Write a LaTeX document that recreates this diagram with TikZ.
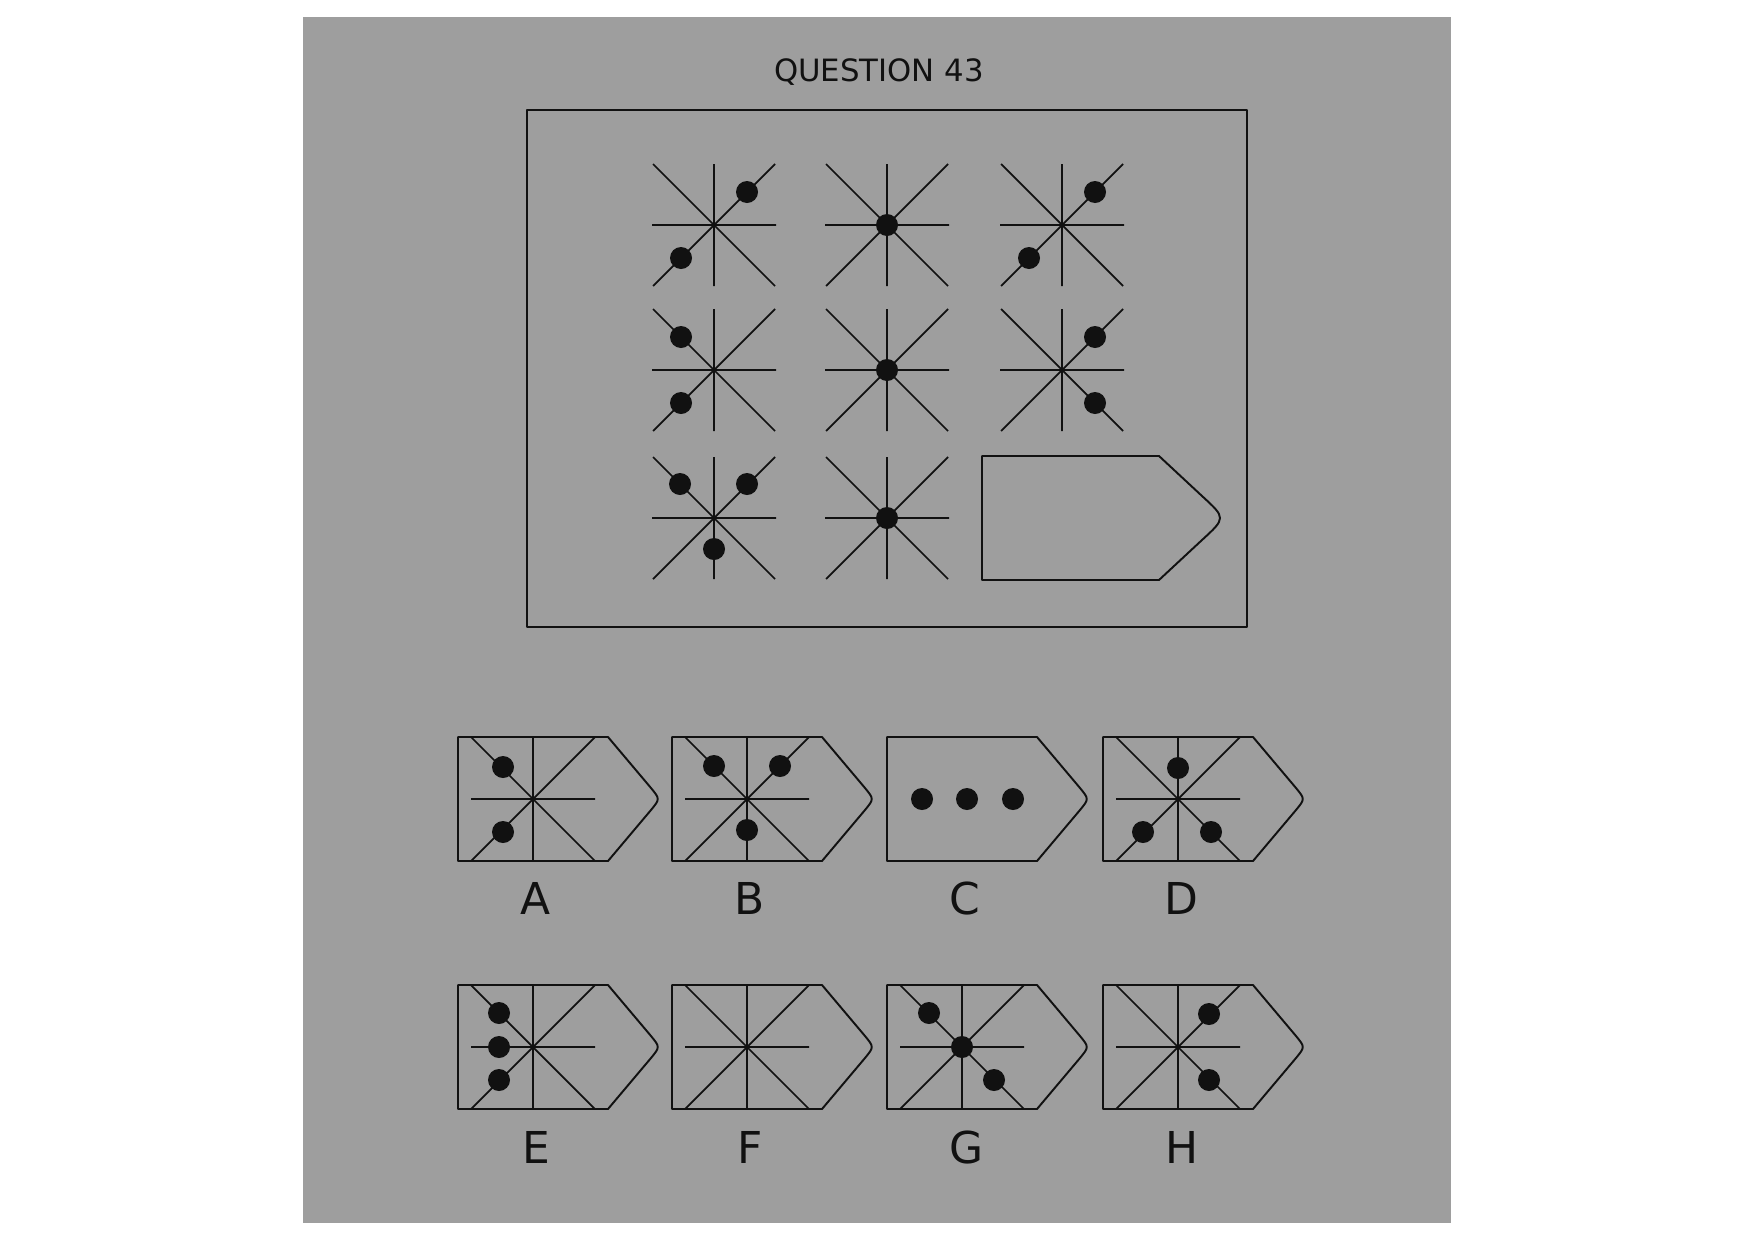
\documentclass[tikz,border=0pt]{standalone}
\usepackage{fontspec}
\setmainfont{DejaVu Sans}
\usepackage{tikz}

\definecolor{panel}{RGB}{158,158,158}
\definecolor{ink}{RGB}{17,17,17}

\tikzset{
  puzzle line/.style={draw=ink, line width=1pt},
  frame line/.style={draw=ink, line width=1.1pt, line join=round},
  dot/.style={fill=ink},
  label text/.style={text=ink, font=\fontsize{25}{28}\selectfont, inner sep=0pt, anchor=base},
  pics/star/.style={code={
    \draw[puzzle line] (-62,0) -- (62,0) (0,-#1) -- (0,#1)
      (-#1,-#1) -- (#1,#1) (-#1,#1) -- (#1,-#1);
  }},
  pics/dots/.style={code={
    \foreach \dx/\dy in {#1} \fill[dot] (\dx,\dy) circle[radius=11];
  }},
  pics/tag/.style={code={
    \draw[frame line] (-75,-62) -- (75,-62) -- (118,-11) .. controls (127,0) .. (118,11)
      -- (75,62) -- (-75,62) -- cycle;
  }},
}

\begin{document}
\begin{tikzpicture}[x=0.02cm, y=-0.02cm]
  \useasboundingbox (0,0) rectangle (1754,1241);
  \fill[white] (0,0) rectangle (1754,1241);
  \fill[panel] (303,17) rectangle (1451,1223);

  \node[text=ink, font=\fontsize{17.5}{20}\selectfont, inner sep=0pt, anchor=base] (title) at (879,81) {QUESTION 43};
  \draw[frame line] (527,110) rectangle (1247,627);

  % the 3x3 grid
  \pic at (714,225) {star=61};  \pic at (714,225) {dots={33/-33,-33/33}};
  \pic at (887,225) {star=61};  \pic at (887,225) {dots={0/0}};
  \pic at (1062,225) {star=61}; \pic at (1062,225) {dots={33/-33,-33/33}};
  \pic at (714,370) {star=61};  \pic at (714,370) {dots={-33/-33,-33/33}};
  \pic at (887,370) {star=61};  \pic at (887,370) {dots={0/0}};
  \pic at (1062,370) {star=61}; \pic at (1062,370) {dots={33/-33,33/33}};
  \pic at (714,518) {star=61};  \pic at (714,518) {dots={-34/-34,33/-34,0/31}};
  \pic at (887,518) {star=61};  \pic at (887,518) {dots={0/0}};
  \draw[frame line] (982,456) -- (1159,456) -- (1202,496) .. controls (1226,518) .. (1202,540)
    -- (1159,580) -- (982,580) -- cycle;

  % answers
  \pic at (533,799) {tag};  \pic at (533,799) {star=62};  \pic at (533,799) {dots={-30/-32,-30/33}};
  \pic at (747,799) {tag};  \pic at (747,799) {star=62};  \pic at (747,799) {dots={-33/-33,33/-33,0/31}};
  \pic at (962,799) {tag};  \pic at (962,799) {dots={-40/0,5/0,51/0}};
  \pic at (1178,799) {tag}; \pic at (1178,799) {star=62}; \pic at (1178,799) {dots={0/-31,-35/33,33/33}};
  \pic at (533,1047) {tag};  \pic at (533,1047) {star=62};  \pic at (533,1047) {dots={-34/-34,-34/0,-34/33}};
  \pic at (747,1047) {tag};  \pic at (747,1047) {star=62};
  \pic at (962,1047) {tag};  \pic at (962,1047) {star=62};  \pic at (962,1047) {dots={-33/-34,0/0,32/33}};
  \pic at (1178,1047) {tag}; \pic at (1178,1047) {star=62}; \pic at (1178,1047) {dots={31/-33,31/33}};

  \node[label text] (labA) at (536,914) {A};
  \node[label text] (labB) at (750,914) {B};
  \node[label text] (labC) at (965,914) {C};
  \node[label text] (labD) at (1181,914) {D};
  \node[label text] (labE) at (536,1163) {E};
  \node[label text] (labF) at (750,1163) {F};
  \node[label text] (labG) at (967,1163) {G};
  \node[label text] (labH) at (1182,1163) {H};
\end{tikzpicture}
\end{document}
